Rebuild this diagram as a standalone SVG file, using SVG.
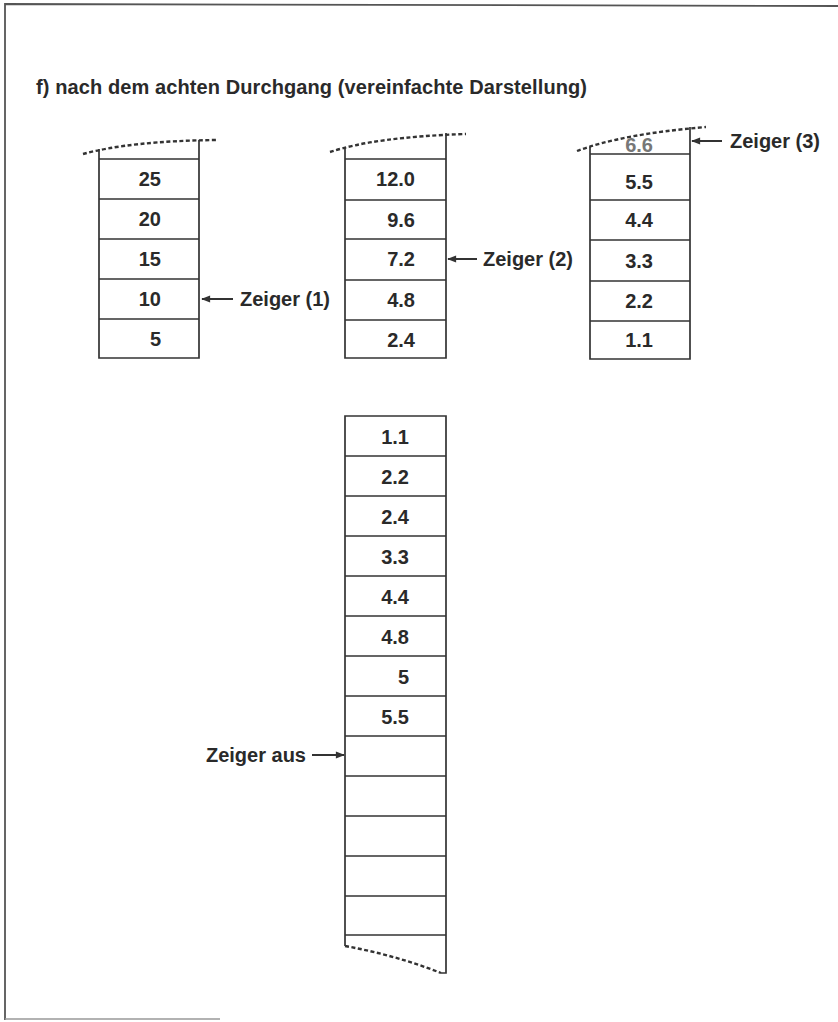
<svg xmlns="http://www.w3.org/2000/svg" width="838" height="1022" viewBox="0 0 838 1022">
<style>
text{font-family:"Liberation Sans",Arial,sans-serif;font-weight:bold;font-size:20px;fill:#2a2a2a}
.v{text-anchor:end}
.ln{stroke:#333;stroke-width:1.7;fill:none}
.dash{fill:none;stroke:#333;stroke-width:2.4;stroke-dasharray:4 2.5}
.arr{stroke:#333;stroke-width:2;fill:none;marker-end:url(#ah)}
.frame{stroke:#555;stroke-width:1.8;fill:none}
</style>
<defs>
<marker id="ah" viewBox="0 0 10 10" refX="9" refY="5" markerWidth="10" markerHeight="9" markerUnits="userSpaceOnUse" orient="auto">
<path d="M0,1 L10,5 L0,9 Z" fill="#333"/>
</marker>
</defs>
<rect width="838" height="1022" fill="#fff"/>
<g id="frame">
<path class="frame" d="M5,1020 L5,4 L838,6"/>
<line x1="5" y1="1019" x2="220" y2="1019" stroke="#999" stroke-width="1.5"/>
</g>
<text id="title" x="36" y="94" textLength="551" lengthAdjust="spacing">f) nach dem achten Durchgang (vereinfachte Darstellung)</text>

<g id="stack1">
<path class="ln" d="M99,149 L99,358 L199,358 L199,140"/>
<path class="dash" d="M83,154 Q130,141 217,140"/>
<path class="ln" d="M99,159 H199 M99,199 H199 M99,239 H199 M99,279 H199 M99,319 H199"/>
<text class="v" x="161" y="186">25</text>
<text class="v" x="161" y="226">20</text>
<text class="v" x="161" y="266">15</text>
<text class="v" x="161" y="306">10</text>
<text class="v" x="161" y="346">5</text>
</g>

<g id="stack2">
<path class="ln" d="M345,148 L345,358 L446,358 L446,133"/>
<path class="dash" d="M330,152 Q375,137 466,134"/>
<path class="ln" d="M345,159 H446 M345,200 H446 M345,239 H446 M345,280 H446 M345,320 H446"/>
<text class="v" x="415" y="186">12.0</text>
<text class="v" x="415" y="227">9.6</text>
<text class="v" x="415" y="266">7.2</text>
<text class="v" x="415" y="307">4.8</text>
<text class="v" x="415" y="347">2.4</text>
</g>

<g id="stack3">
<path class="ln" d="M590,147 L590,359 L690,359 L690,127"/>
<text class="v" x="653" y="152" style="fill:#777">6.6</text>
<path class="dash" d="M577,151 Q622,134 706,127"/>
<path class="ln" d="M590,154 H690 M590,200 H690 M590,240 H690 M590,281 H690 M590,321 H690"/>
<text class="v" x="653" y="189">5.5</text>
<text class="v" x="653" y="227">4.4</text>
<text class="v" x="653" y="268">3.3</text>
<text class="v" x="653" y="308">2.2</text>
<text class="v" x="653" y="347">1.1</text>
</g>

<g id="stack4">
<path class="ln" d="M345,946 L345,416 L446,416 L446,973 L441,973"/>
<path class="dash" d="M345,946 Q395,955 441,973"/>
<path class="ln" d="M345,456 H446 M345,496 H446 M345,536 H446 M345,576 H446 M345,616 H446 M345,656 H446 M345,696 H446 M345,736 H446 M345,776 H446 M345,816 H446 M345,856 H446 M345,896 H446 M345,935 H446"/>
<text class="v" x="409" y="444">1.1</text>
<text class="v" x="409" y="484">2.2</text>
<text class="v" x="409" y="524">2.4</text>
<text class="v" x="409" y="564">3.3</text>
<text class="v" x="409" y="604">4.4</text>
<text class="v" x="409" y="644">4.8</text>
<text class="v" x="409" y="684">5</text>
<text class="v" x="409" y="724">5.5</text>
</g>

<g id="pointers">
<line class="arr" x1="233" y1="299" x2="202" y2="299"/>
<line class="arr" x1="477" y1="259" x2="448" y2="259"/>
<line class="arr" x1="722" y1="141" x2="692" y2="141"/>
<line class="arr" x1="312" y1="755" x2="344" y2="755"/>
</g>
<g id="pointer-labels">
<text x="240" y="306">Zeiger (1)</text>
<text x="483" y="266">Zeiger (2)</text>
<text x="730" y="148">Zeiger (3)</text>
<text class="v" x="306" y="762">Zeiger aus</text>
</g>
</svg>
